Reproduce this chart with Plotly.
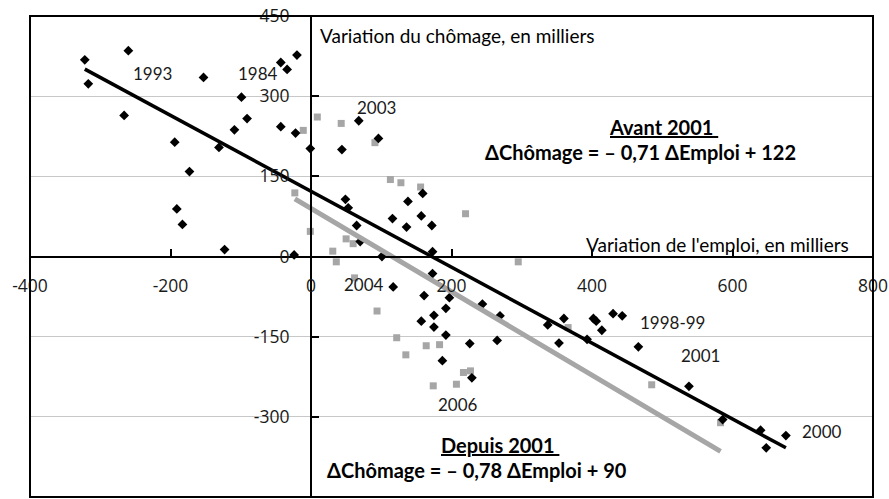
import plotly.graph_objects as go

# Avant 2001 (losanges noirs): variation de l'emploi / du chômage, en milliers
emploi_avant = [
    -322, -317, -260, -266, -153, -194, -131, -173, -191, -183, -123,
    -99, -91, -109, -43, -34, -20, -43, -22, -1,
    68, 44, 96, 159, 138, 49, 53, 65, 116, 136, 157, 172, 70, 173,
    -24, 101, 173, 117, 161, 197, 192, 175, 157, 175, 192, 187,
    229, 226, 265, 244, 269, 337, 360, 353, 393, 402, 406, 414,
    430, 443, 466, 538, 586, 640, 648, 676,
]
chomage_avant = [
    368, 323, 385, 264, 335, 214, 204, 159, 89, 60, 13,
    298, 258, 237, 363, 350, 377, 243, 231, 202,
    254, 200, 221, 118, 103, 107, 91, 58, 71, 55, 76, 58, 28, 9,
    3, 0, -32, -57, -73, -77, -97, -110, -121, -132, -147, -195,
    -227, -163, -157, -89, -111, -128, -116, -162, -155, -116, -121, -138,
    -107, -111, -169, -243, -305, -325, -358, -335,
]

# Depuis 2001 (carrés gris)
emploi_depuis = [
    9, -11, 43, 91, 113, 128, 156, 220, -23, -1, 50, 60, 31, 36,
    62, 94, 122, 135, 164, 183, 174, 207, 217, 227, 295, 366, 485, 583,
]
chomage_depuis = [
    261, 236, 249, 213, 144, 138, 130, 80, 119, 47, 33, 24, 10, -10,
    -40, -102, -152, -184, -167, -165, -242, -239, -217, -214, -10, -133, -240, -311,
]

# droites de régression affichées
pente_avant, constante_avant = -0.71, 122
pente_depuis, constante_depuis = -0.78, 90

x_range = [-400, 800]
y_range = [-450, 450]
x_ticks = [-400, -200, 0, 200, 400, 600, 800]
x_ticktext = ["-400", "-200", "0", "200", "400", "600", "800"]
y_ticks = [-450, -300, -150, 0, 150, 300, 450]
y_ticktext = ["-450", "-300", "-150", "0", "150", "300", "450"]

# étiquettes d'années: (texte, x, y)
years = [
    ("1993", -225, 343), ("1984", -75, 343), ("2003", 93, 279),
    ("2004", 75, -52), ("2006", 209, -277), ("1998-99", 515, -123),
    ("2001", 555, -185), ("2000", 728, -327),
]

BLACK = "#000000"
GREY = "#a6a6a6"


def droite(xs, pente, constante):
    xa, xb = min(xs), max(xs)
    return [xa, xb], [pente * xa + constante, pente * xb + constante]


fig = go.Figure()
fig.add_trace(go.Scatter(
    x=emploi_depuis, y=chomage_depuis, mode="markers",
    marker={"symbol": "square", "size": 7, "color": GREY}, cliponaxis=False,
))
fig.add_trace(go.Scatter(
    x=emploi_avant, y=chomage_avant, mode="markers",
    marker={"symbol": "diamond", "size": 7.5, "color": BLACK}, cliponaxis=False,
))
lx, ly = droite(emploi_depuis, pente_depuis, constante_depuis)
fig.add_trace(go.Scatter(x=lx, y=ly, mode="lines", line={"color": GREY, "width": 5}))
lx, ly = droite(emploi_avant, pente_avant, constante_avant)
fig.add_trace(go.Scatter(x=lx, y=ly, mode="lines", line={"color": BLACK, "width": 3.5}))

tick_font = {"family": "Open Sans", "size": 17.5, "color": "#1a1a1a"}
fig.update_xaxes(
    range=x_range, tickvals=x_ticks, ticktext=x_ticktext, anchor="free", position=0.5,
    showline=True, linecolor=BLACK, linewidth=2, showgrid=False, zeroline=False,
    ticks="inside", ticklen=7, tickwidth=2, tickcolor=BLACK,
    tickfont=tick_font, ticklabelstandoff=13, automargin=False,
)
fig.update_yaxes(
    range=y_range, tickvals=y_ticks, ticktext=y_ticktext, anchor="free", position=1 / 3,
    showline=True, linecolor=BLACK, linewidth=2, showgrid=True,
    gridcolor="#c8c8c8", gridwidth=1, zeroline=False,
    ticks="inside", ticklen=7, tickwidth=2, tickcolor=BLACK,
    tickfont=tick_font, ticklabelstandoff=17, automargin=False,
)

fig.add_shape(type="rect", xref="paper", yref="paper", x0=0, x1=1, y0=0, y1=1,
              line={"color": BLACK, "width": 2}, layer="above")

label_font = {"family": "Lato", "size": 19, "color": BLACK}
fig.add_annotation(x=10, y=414, text="Variation du chômage, en milliers",
                   xanchor="left", showarrow=False, font=label_font)
fig.add_annotation(x=769, y=23, text="Variation de l'emploi, en milliers",
                   xanchor="right", showarrow=False, font=label_font)

year_font = {"family": "Lato", "size": 17, "color": "#1a1a1a"}
for txt, xv, yv in years:
    fig.add_annotation(x=xv, y=yv, text=txt, showarrow=False, font=year_font)

eq_font = {"family": "Lato", "size": 20, "color": BLACK, "weight": "bold"}
fig.add_annotation(x=502, y=242, text="<u>Avant 2001 </u>", showarrow=False, font=eq_font)
fig.add_annotation(x=469, y=195, text="ΔChômage = – 0,71 ΔEmploi + 122",
                   showarrow=False, font=eq_font)
fig.add_annotation(x=269, y=-353, text="<u>Depuis 2001 </u>", showarrow=False, font=eq_font)
fig.add_annotation(x=236, y=-400, text="ΔChômage = – 0,78 ΔEmploi + 90",
                   showarrow=False, font=eq_font)

fig.update_layout(
    width=889, height=499, showlegend=False,
    margin={"l": 30, "r": 16, "t": 16, "b": 2},
    paper_bgcolor="white", plot_bgcolor="white",
)
fig.write_html("out.html", config={"displayModeBar": False},
               post_script="document.body.style.margin='0';")
